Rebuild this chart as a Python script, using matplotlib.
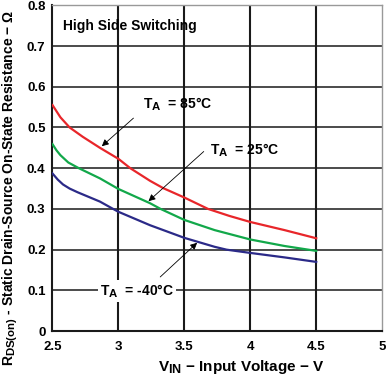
import matplotlib
matplotlib.use("Agg")
import matplotlib.pyplot as plt
import matplotlib._mathtext as _mt

# larger sub-scripts, closer to the datasheet look
_mt.SHRINK_FACTOR = 0.82

plt.rcParams['font.family'] = ['Liberation Sans', 'DejaVu Sans']
plt.rcParams['font.weight'] = 'bold'
plt.rcParams['mathtext.fontset'] = 'custom'
plt.rcParams['mathtext.rm'] = 'Liberation Sans:bold'
plt.rcParams['mathtext.it'] = 'Liberation Sans:bold'
plt.rcParams['mathtext.bf'] = 'Liberation Sans:bold'

# --- values ---
v_85 = [2.5, 2.56, 2.63, 2.73, 2.86, 3.0, 3.09, 3.24, 3.34, 3.5, 3.68, 3.84, 4.0, 4.26, 4.5]
r_85 = [0.555, 0.525, 0.50, 0.477, 0.450, 0.423, 0.40, 0.369, 0.351, 0.328, 0.30, 0.283,
        0.268, 0.248, 0.228]

v_25 = [2.5, 2.53, 2.56, 2.62, 2.70, 2.86, 3.0, 3.24, 3.32, 3.5, 3.73, 4.0, 4.26, 4.5]
r_25 = [0.459, 0.444, 0.432, 0.414, 0.40, 0.375, 0.349, 0.314, 0.30, 0.273, 0.248, 0.225,
        0.209, 0.197]

v_m40 = [2.5, 2.54, 2.58, 2.63, 2.69, 2.86, 2.96, 3.0, 3.24, 3.5, 3.73, 3.82, 4.0, 4.26, 4.5]
r_m40 = [0.387, 0.372, 0.36, 0.35, 0.341, 0.318, 0.30, 0.293, 0.26, 0.229, 0.207, 0.20,
         0.192, 0.181, 0.170]

x_ticks = [2.5, 3, 3.5, 4, 4.5, 5]
x_ticklabels = ['2.5', '3', '3.5', '4', '4.5', '5']
y_ticks = [0, 0.1, 0.2, 0.3, 0.4, 0.5, 0.6, 0.7, 0.8]
y_ticklabels = ['0', '0.1', '0.2', '0.3', '0.4', '0.5', '0.6', '0.7', '0.8']

fig = plt.figure(figsize=(3.86, 3.78), dpi=100)
ax = fig.add_axes([0.136, 0.124, 0.854, 0.862])

# grid
for x in x_ticks[1:-1]:
    ax.axvline(x, color='#1a1a1a', lw=1.5, zorder=1)
for y in y_ticks[1:-1]:
    ax.axhline(y, color='#1a1a1a', lw=1.1, zorder=1)

ax.plot(v_85, r_85, color='#e8262a', lw=1.6, zorder=3)
ax.plot(v_25, r_25, color='#12a84a', lw=1.6, zorder=3)
ax.plot(v_m40, r_m40, color='#2b2a88', lw=1.6, zorder=3)

ax.set_xlim(2.5, 5)
ax.set_ylim(0, 0.8)
ax.set_xticks(x_ticks)
ax.set_xticklabels(x_ticklabels)
ax.set_yticks(y_ticks)
ax.set_yticklabels(y_ticklabels)
ax.tick_params(length=0, labelsize=9.5, pad=5)
ax.tick_params(axis='x', pad=7)

for s in ['left', 'bottom']:
    ax.spines[s].set_color('#1a1a1a')
    ax.spines[s].set_linewidth(1.5)
for s in ['top', 'right']:
    ax.spines[s].set_color('#999999')
    ax.spines[s].set_linewidth(1.0)

# axis titles
fig.text(241 / 386, 1 - 367 / 378, r'$\mathrm{V_{IN}}$ − Input Voltage − V',
         fontsize=11, fontweight='bold', ha='center', va='center')
fig.text(10 / 386, 1 - 188 / 378,
         r'$\mathrm{R_{DS(on)}}$ - Static Drain-Source On-State Resistance − Ω',
         fontsize=10, fontweight='bold', ha='center', va='center', rotation=90)

ax.text(2.579, 0.749, 'High Side Switching', fontsize=10, fontweight='bold',
        va='center', ha='left', zorder=4)

arrow = dict(arrowstyle='-|>', color='black', lw=0.6, mutation_scale=10, shrinkA=0, shrinkB=0)

ax.text(3.186, 0.558, r'$\mathrm{T_A}$  = 85°C', fontsize=10, fontweight='bold',
        va='center', ha='left', zorder=4)
ax.annotate('', xy=(2.874, 0.454), xytext=(3.114, 0.523), arrowprops=arrow, zorder=4)

ax.text(3.693, 0.445, r'$\mathrm{T_A}$  = 25°C', fontsize=10, fontweight='bold',
        va='center', ha='left', zorder=4)
ax.annotate('', xy=(3.228, 0.319), xytext=(3.647, 0.441), arrowprops=arrow, zorder=4)

ax.text(2.861, 0.099, r'$\mathrm{T_A}$  = -40°C', fontsize=10, fontweight='bold',
        va='center', ha='left', zorder=4,
        bbox=dict(facecolor='white', edgecolor='none', pad=1.5))
ax.annotate('', xy=(3.597, 0.217), xytext=(3.317, 0.133), arrowprops=arrow, zorder=4)

fig.savefig('out.png', dpi=100)
